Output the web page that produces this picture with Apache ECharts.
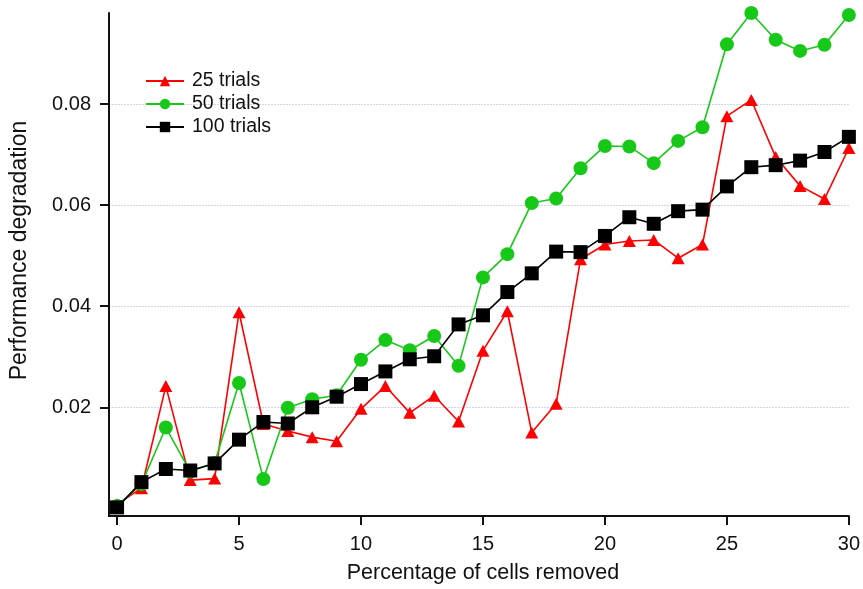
<!DOCTYPE html>
<html>
<head>
<meta charset="utf-8">
<script src="https://cdn.jsdelivr.net/npm/echarts@6/dist/echarts.min.js"></script>
<style>
html,body{margin:0;padding:0;background:#fff;}
#chart{width:863px;height:589px;}
</style>
</head>
<body>
<div id="chart"></div>
<script>
const xValues = [0,1,2,3,4,5,6,7,8,9,10,11,12,13,14,15,16,17,18,19,20,21,22,23,24,25,26,27,28,29,30];
const trials25 = [0.0008,0.0040,0.0242,0.0056,0.0059,0.0388,0.0167,0.0153,0.0141,0.0133,0.0197,0.0242,0.0189,0.0223,0.0172,0.0312,0.0390,0.0150,0.0207,0.0493,0.0522,0.0529,0.0531,0.0495,0.0522,0.0776,0.0808,0.0695,0.0638,0.0612,0.0713];
const trials50 = [0.0005,0.0048,0.0160,0.0073,0.0090,0.0248,0.0058,0.0199,0.0216,0.0224,0.0294,0.0333,0.0313,0.0341,0.0282,0.0457,0.0503,0.0604,0.0613,0.0673,0.0717,0.0716,0.0683,0.0727,0.0754,0.0918,0.0980,0.0927,0.0905,0.0917,0.0976];
const trials100 = [0.0002,0.0052,0.0078,0.0075,0.0089,0.0136,0.0171,0.0168,0.0200,0.0221,0.0246,0.0271,0.0295,0.0301,0.0364,0.0382,0.0428,0.0465,0.0508,0.0507,0.0539,0.0576,0.0563,0.0588,0.0591,0.0637,0.0675,0.0679,0.0688,0.0705,0.0735];
const xTicks = [0,5,10,15,20,25,30];
const yTicks = [0.02,0.04,0.06,0.08];
const seriesNames = ['25 trials','50 trials','100 trials'];

function pairs(vals){ return xValues.map((x,i)=>[x, vals[i]]); }

const chart = echarts.init(document.getElementById('chart'), null, {renderer:'canvas'});
const font = 'Liberation Sans, Arial, sans-serif';
chart.setOption({
  animation:false,
  backgroundColor:'#fff',
  grid:{left:109, right:10, top:13, bottom:68, containLabel:false},
  legend:{
    orient:'vertical', left:140, top:66,
    itemWidth:38, itemHeight:13, itemGap:3,
    textStyle:{fontFamily:font, fontSize:19.5, color:'#111', padding:[0,0,0,3]},
    data:seriesNames
  },
  xAxis:{
    type:'value', min:-0.33, max:30,
    name:'Percentage of cells removed', nameLocation:'middle', nameGap:46,
    nameTextStyle:{fontFamily:font, fontSize:21.5, color:'#111', padding:[0,0,0,8]},
    axisLine:{show:true, onZero:false, lineStyle:{color:'#111', width:2}},
    axisTick:{show:true, length:9, inside:false, customValues:xTicks, lineStyle:{color:'#111', width:2}},
    axisLabel:{customValues:xTicks, fontFamily:font, fontSize:20, color:'#111', margin:18},
    splitLine:{show:false}
  },
  yAxis:{
    type:'value', min:-0.0015, max:0.098,
    name:'Performance degradation', nameLocation:'middle', nameGap:78,
    nameTextStyle:{fontFamily:font, fontSize:23, color:'#111', padding:[0,0,0,28]},
    axisLine:{show:true, onZero:false, lineStyle:{color:'#111', width:2}},
    axisTick:{show:true, length:9, inside:false, customValues:yTicks, lineStyle:{color:'#111', width:2}},
    axisLabel:{customValues:yTicks, fontFamily:font, fontSize:20, color:'#111', margin:18,
      formatter:v=>v.toFixed(2)},
    splitLine:{show:true, lineStyle:{color:'#d2d2f6', width:1.2, type:[2,1]}}
  },
  series:[
    {name:seriesNames[0], type:'line', data:pairs(trials25), symbol:'triangle', symbolSize:[13,12],
     lineStyle:{color:'#ff0000', width:1.6}, itemStyle:{color:'#ff0000'}, clip:false, z:2},
    {name:seriesNames[1], type:'line', data:pairs(trials50), symbol:'circle', symbolSize:14,
     lineStyle:{color:'#18c818', width:1.6}, itemStyle:{color:'#18c818'}, clip:false, z:3},
    {name:seriesNames[2], type:'line', data:pairs(trials100), symbol:'rect', symbolSize:14,
     lineStyle:{color:'#000000', width:1.6}, itemStyle:{color:'#000000'}, clip:false, z:4}
  ]
});
</script>
</body>
</html>
